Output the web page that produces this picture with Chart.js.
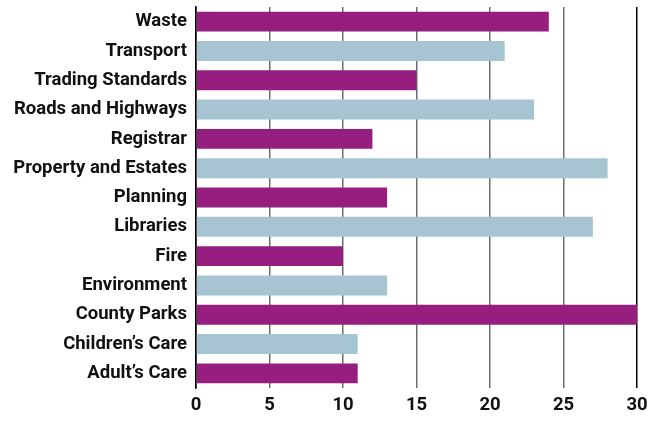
<!DOCTYPE html>
<html>
<head>
<meta charset="utf-8">
<script src="https://cdn.jsdelivr.net/npm/chart.js@4/dist/chart.umd.min.js"></script>
<style>
    html, body { margin: 0; padding: 0; background: #fff; }
    canvas { display: block; }
</style>
</head>
<body>
<canvas id="chart" width="667" height="424"></canvas>
<script>
const services = [
    'Waste', 'Transport', 'Trading Standards', 'Roads and Highways', 'Registrar',
    'Property and Estates', 'Planning', 'Libraries', 'Fire', 'Environment',
    'County Parks', 'Children\u2019s Care', 'Adult\u2019s Care'
];
const values = [24, 21, 15, 23, 12, 28, 13, 27, 10, 13, 30, 11, 11];
const xTicks = [0, 5, 10, 15, 20, 25, 30];

const purple = '#951e7f';
const blue = '#a7c4d2';

// alternate purple / light blue down the list
const barColors = services.map((s, i) => i % 2 === 0 ? purple : blue);

Chart.defaults.font.family = 'Roboto, sans-serif';
Chart.defaults.font.weight = 'bold';
Chart.defaults.color = '#111';

new Chart(document.getElementById('chart').getContext('2d'), {
    type: 'bar',
    data: {
        labels: services,
        datasets: [{
            data: values,
            backgroundColor: barColors,
            barPercentage: 0.68,
            categoryPercentage: 1
        }]
    },
    options: {
        indexAxis: 'y',
        responsive: false,
        animation: false,
        devicePixelRatio: 1,
        layout: {
            padding: { top: 7, right: 30, bottom: 0, left: 0 }
        },
        plugins: {
            legend: { display: false },
            tooltip: { enabled: false }
        },
        scales: {
            x: {
                min: 0,
                max: 30,
                afterBuildTicks: (scale) => {
                    scale.ticks = xTicks.map(v => ({ value: v }));
                },
                afterFit: (scale) => {
                    scale.height = 36;
                    scale.paddingTop = 0;
                    scale.paddingBottom = 0;
                },
                border: { display: false },
                grid: {
                    drawTicks: false,
                    lineWidth: 1.5,
                    color: (ctx) => (ctx.tick && (ctx.tick.value === 30 || ctx.tick.value === 0)) ? '#000' : '#6e6e6e'
                },
                ticks: {
                    padding: 6,
                    autoSkip: false,
                    maxRotation: 0,
                    font: { size: 18.5, weight: 'bold' },
                    color: '#111'
                }
            },
            y: {
                afterFit: (scale) => {
                    scale.width = 196;
                    scale.paddingTop = 0;
                    scale.paddingBottom = 0;
                },
                border: { display: true, color: '#000', width: 1.5 },
                grid: { display: false, drawTicks: false },
                ticks: {
                    padding: 9,
                    autoSkip: false,
                    font: { size: 18.5, weight: 'bold' },
                    color: '#111'
                }
            }
        }
    }
});
</script>
</body>
</html>
